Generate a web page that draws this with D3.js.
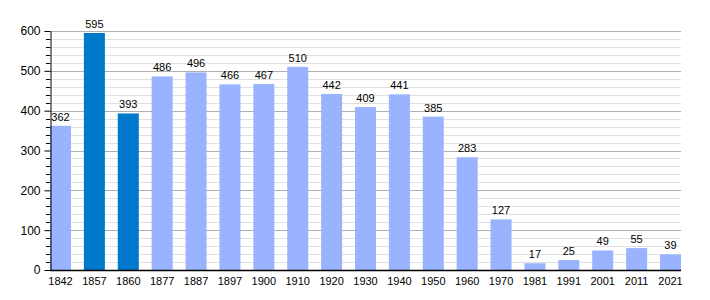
<!DOCTYPE html>
<html><head><meta charset="utf-8">
<script src="https://cdn.jsdelivr.net/npm/d3@7"></script>
<style>body{margin:0;background:#fff;} text{font-family:"Liberation Sans",Arial,sans-serif;fill:#000;}</style>
</head><body><svg id="c" width="710" height="300"></svg>
<script>
const years = ["1842","1857","1860","1877","1887","1897","1900","1910","1920","1930","1940","1950","1960","1970","1981","1991","2001","2011","2021"];
const population = [362,595,393,486,496,466,467,510,442,409,441,385,283,127,17,25,49,55,39];
const highlighted = ["1857","1860"];
const yTicks = [0,100,200,300,400,500,600];

const svg = d3.select("#c");
const x = d3.scaleBand().domain(years).range([50,681]).paddingInner(0.38).paddingOuter(0);
const y = d3.scaleLinear().domain([0,600]).range([270,31]);

const minor = d3.range(0,601,20).filter(v => v % 100 !== 0);
svg.append("g").selectAll("line").data(minor).join("line")
  .attr("x1",50).attr("x2",681).attr("y1",d=>Math.round(y(d))+0.5).attr("y2",d=>Math.round(y(d))+0.5)
  .attr("stroke","#e0e0e0").attr("stroke-width",1);
svg.append("g").selectAll("line").data(yTicks.filter(v=>v>0)).join("line")
  .attr("x1",50).attr("x2",681).attr("y1",d=>Math.round(y(d))+0.5).attr("y2",d=>Math.round(y(d))+0.5)
  .attr("stroke","#b0b0b0").attr("stroke-width",1);

svg.append("g").selectAll("rect").data(years).join("rect")
  .attr("x",d=>x(d)).attr("width",x.bandwidth())
  .attr("y",(d,i)=>y(population[i])).attr("height",(d,i)=>y(0)-y(population[i]))
  .attr("fill",d=>highlighted.includes(d)?"#0079cc":"#99b3ff");

svg.append("g").selectAll("text").data(years).join("text")
  .attr("x",d=>x(d)+x.bandwidth()/2).attr("y",(d,i)=>y(population[i])-5)
  .attr("text-anchor","middle").attr("font-size",11).text((d,i)=>population[i]);

// minor ticks on y axis
svg.append("g").selectAll("line").data(minor).join("line")
  .attr("x1",46).attr("x2",50).attr("y1",d=>Math.round(y(d))+0.5).attr("y2",d=>Math.round(y(d))+0.5)
  .attr("stroke","#000");

const yAxis = svg.append("g").attr("transform","translate(50.5,0)")
  .call(d3.axisLeft(y).tickValues(yTicks).tickSize(6).tickSizeOuter(0).tickPadding(4));
yAxis.selectAll("text").attr("font-size",12).style("font-family","Liberation Sans, Arial, sans-serif");
yAxis.select(".domain").attr("stroke","#000");

const xAxis = svg.append("g").attr("transform","translate(0,270.5)")
  .call(d3.axisBottom(x).tickSize(0).tickPadding(7));
xAxis.select(".domain").attr("d","M50,0H681").attr("stroke","#000").attr("stroke-width",1.5);
xAxis.selectAll("text").attr("font-size",11).style("font-family","Liberation Sans, Arial, sans-serif");
</script></body></html>
